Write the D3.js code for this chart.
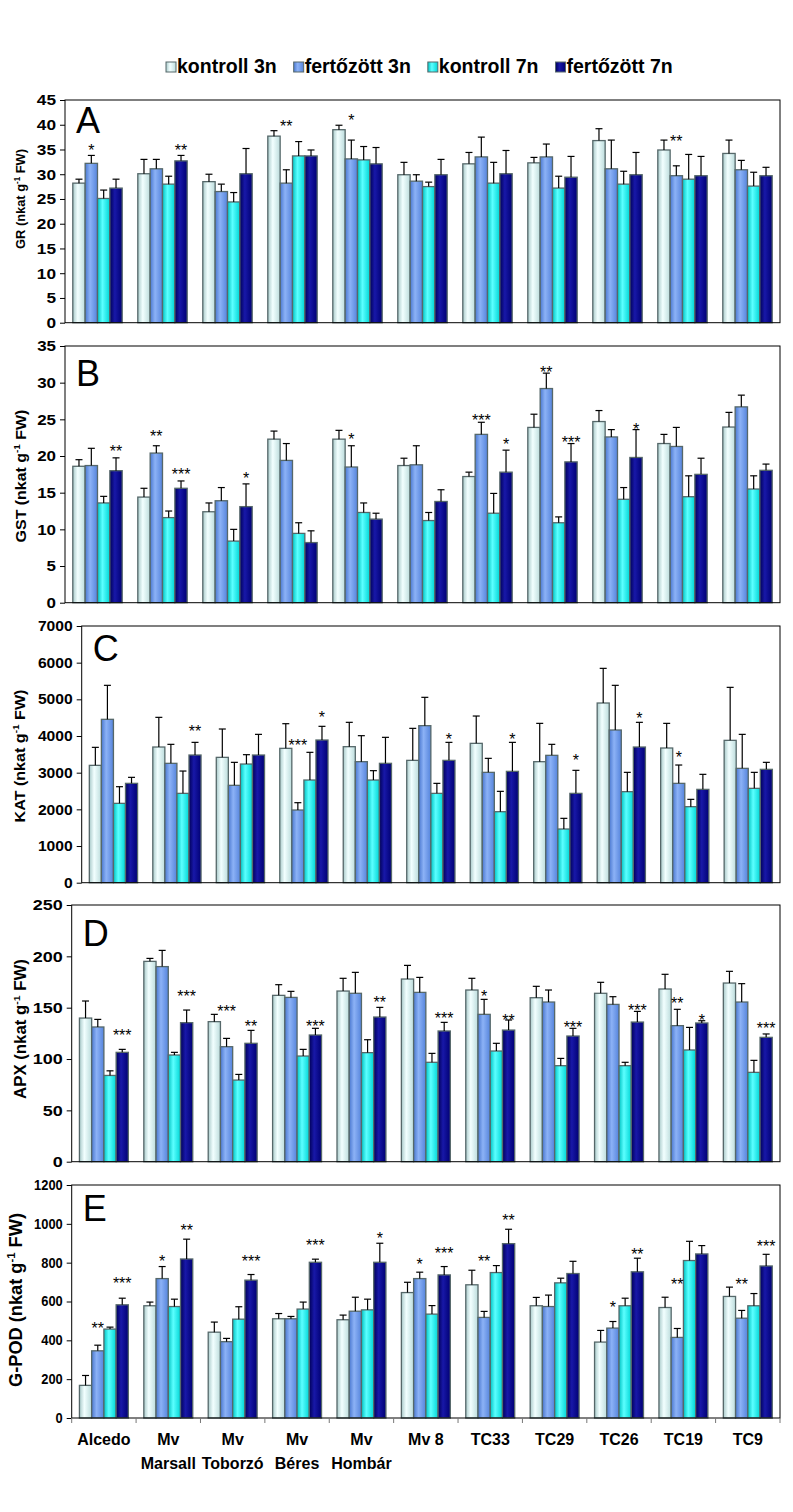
<!DOCTYPE html>
<html><head><meta charset="utf-8">
<script src="https://cdn.jsdelivr.net/npm/d3@7"></script>
<style>body{margin:0;background:#fff}svg{display:block}</style>
</head><body>
<svg id="chart" width="793" height="1512"></svg>
<script>
const categories = ["Alcedo","Mv Marsall","Mv Toborzó","Mv Béres","Mv Hombár","Mv 8","TC33","TC29","TC26","TC19","TC9"];
const series = ["kontroll 3n","fertőzött 3n","kontroll 7n","fertőzött 7n"];

// A: GR
const grMean = [[28.2,32.2,25.1,27.2],[30.1,31.1,28.0,32.7],[28.5,26.5,24.4,30.1],[37.7,28.2,33.7,33.7],[39.0,33.1,32.9,32.1],[29.9,28.6,27.5,29.9],[32.1,33.5,28.2,30.1],[32.3,33.5,27.2,29.4],[36.8,31.1,28.0,29.9],[34.9,29.7,29.0,29.7],[34.2,30.9,27.6,29.7]];
const grSd = [[0.8,1.6,1.7,1.8],[2.9,1.9,1.6,1.1],[1.5,1.5,1.9,5.1],[1.1,2.7,2.9,1.2],[0.9,3.8,2.7,3.3],[2.5,1.3,0.9,3.1],[2.3,4.0,4.2,4.7],[1.1,2.6,2.4,4.2],[2.4,5.8,2.6,4.5],[2.0,2.0,5.0,3.9],[2.7,1.9,2.8,1.7]];
const grSig = [[0,1,"*",35.6],[1,3,"**",35.6],[3,1,"**",40.3],[4,1,"*",41.6],[9,1,"**",37.3]];
const grTicks = [0,5,10,15,20,25,30,35,40,45];

// B: GST
const gstMean = [[18.6,18.7,13.6,18.0],[14.4,20.4,11.6,15.6],[12.4,13.9,8.4,13.1],[22.3,19.4,9.45,8.2],[22.3,18.5,12.3,11.4],[18.7,18.8,11.2,13.8],[17.2,22.95,12.2,17.8],[23.9,29.2,10.9,19.2],[24.7,22.6,14.1,19.8],[21.7,21.3,14.45,17.5],[23.95,26.7,15.5,18.05]];
const gstSd = [[0.9,2.35,0.9,1.75],[1.2,1.0,0.9,1.0],[1.2,1.8,1.6,3.1],[1.1,2.3,1.45,1.6],[1.2,2.9,1.3,0.8],[1.0,2.6,1.1,1.6],[0.6,1.65,2.7,3.0],[1.8,2.1,0.8,2.5],[1.5,1.0,1.6,3.8],[1.25,2.6,2.85,2.2],[2.0,1.6,1.8,0.85]];
const gstSig = [[0,3,"**",21.05],[1,1,"**",23.1],[1,3,"***",17.9],[2,3,"*",17.4],[4,1,"*",22.7],[6,1,"***",25.3],[6,3,"*",22.1],[7,1,"**",31.8],[7,3,"***",22.3],[8,3,"*",24.1]];
const gstTicks = [0,5,10,15,20,25,30,35];

// C: KAT
const katMean = [[3200,4455,2164,2709],[3700,3255,2436,3482],[3418,2655,3236,3482],[3664,1982,2800,3891],[3709,3300,2800,3255],[3336,4282,2436,3336],[3800,3009,1936,3036],[3300,3473,1464,2436],[4900,4164,2482,3700],[3673,2709,2073,2545],[3882,3118,2573,3091]];
const katSd = [[491,927,454,164],[809,518,609,345],[773,627,255,563],[672,200,755,373],[664,709,255,709],[873,773,273,491],[745,382,555,791],[1045,300,291,628],[945,1218,527,673],[672,500,200,410],[1445,927,436,191]];
const katSig = [[1,3,"**",4209],[3,1,"***",3845],[3,3,"*",4600],[5,3,"*",4000],[6,3,"*",4000],[7,3,"*",3436],[8,3,"*",4564],[9,1,"*",3509]];
const katTicks = [0,1000,2000,3000,4000,5000,6000,7000];

// D: APX
const apxMean = [[139.9,131.2,84.0,106.5],[195.1,190.0,103.9,135.4],[136.4,112.0,79.5,115.3],[162.0,160.0,102.9,123.4],[166.2,164.0,106.2,140.9],[177.9,164.9,96.8,127.3],[167.2,143.5,107.8,128.2],[159.7,155.5,93.5,122.4],[164.0,153.2,93.5,136.0],[168.2,132.5,108.8,135.1],[174.0,155.5,87.0,121.1]];
const apxSd = [[16.6,7.4,4.5,2.9],[2.9,15.8,2.6,12.3],[7.1,8.1,5.5,12.6],[10.4,5.9,6.5,6.5],[12.4,20.4,12.6,9.4],[13.3,14.6,8.7,8.4],[11.4,14.6,7.5,9.8],[11.1,11.7,7.1,7.5],[10.7,7.5,3.3,10.4],[14.3,15.9,22.0,2.2],[11.4,17.9,11.7,3.3]];
const apxSig = [[0,3,"***",126.6],[1,3,"***",164],[2,1,"***",149.4],[2,3,"**",134.7],[3,3,"***",134.7],[4,3,"**",158],[5,3,"***",142.9],[6,1,"*",164],[6,3,"**",141.2],[7,3,"***",133.8],[8,3,"***",150.3],[9,1,"**",157.5],[9,3,"*",141.2],[10,3,"***",133.1]];
const apxTicks = [0,50,100,150,200,250];

// E: G-POD
const gpodMean = [[168,346,458,583],[578,718,574,819],[442,393,509,710],[511,511,561,802],[506,550,557,802],[646,718,535,737],[686,518,749,898],[578,574,696,744],[391,463,578,753],[569,415,811,845],[626,514,578,783]];
const gpodSd = [[51,29,10,34],[19,62,38,102],[52,17,64,29],[27,12,36,16],[24,72,55,98],[53,33,44,43],[75,31,36,74],[43,59,24,63],[60,34,39,70],[53,46,99,43],[48,40,63,60]];
const gpodSig = [[0,1,"**",480],[0,3,"***",711],[1,1,"*",823],[1,3,"**",982],[2,3,"***",823],[3,3,"***",909],[4,3,"*",943],[5,1,"*",811],[5,3,"***",866],[6,1,"**",826],[6,3,"**",1034],[8,1,"*",588],[8,3,"**",862],[9,1,"**",708],[10,1,"**",708],[10,3,"***",903]];
const gpodTicks = [0,200,400,600,800,1000,1200];

const yTitles = ["GR","GST","KAT","APX","G-POD"];
const panelLetters = ["A","B","C","D","E"];

// ---------- layout / style ----------
const svg = d3.select("#chart");
const FONT = "'Liberation Sans', Arial, Helvetica, sans-serif";
svg.attr("font-family", FONT);
const RIGHT = 780;
const panels = [
  {mean:grMean, sd:grSd, sig:grSig, ticks:grTicks, top:100, bottom:322.7, left:65, tickFs:15, tickSx:1.15, titleFs:13.5, titleLen:100, titleCy:199, titleX:25, letterDy:33},
  {mean:gstMean, sd:gstSd, sig:gstSig, ticks:gstTicks, top:346, bottom:602.7, left:65, tickFs:15, tickSx:1.13, titleFs:15.5, titleLen:133, titleCy:476, titleX:26, letterDy:40},
  {mean:katMean, sd:katSd, sig:katSig, ticks:katTicks, top:626, bottom:882.7, left:81.7, tickFs:14.5, tickSx:1.08, titleFs:15.5, titleLen:133, titleCy:756, titleX:25, letterDy:35},
  {mean:apxMean, sd:apxSd, sig:apxSig, ticks:apxTicks, top:905, bottom:1161.7, left:71.7, tickFs:15, tickSx:1.2, titleFs:16, titleLen:140, titleCy:1029, titleX:26, letterDy:41},
  {mean:gpodMean, sd:gpodSd, sig:gpodSig, ticks:gpodTicks, top:1185, bottom:1418, left:71.7, tickFs:14, tickSx:0.92, titleFs:17.5, titleLen:174, titleCy:1300, titleX:22, letterDy:36}
];

const gradStops = [
  [["0%","#a9caca"],["40%","#f2ffff"],["100%","#bcdcdc"]],
  [["0%","#4a78d0"],["40%","#8cb2f6"],["100%","#5584dc"]],
  [["0%","#00c4c4"],["40%","#5cffff"],["100%","#00d6d6"]],
  [["0%","#00005a"],["40%","#1818a8"],["100%","#000074"]]
];
const defs = svg.append("defs");
gradStops.forEach((st,i)=>{
  const g = defs.append("linearGradient").attr("id","g"+i).attr("x1","0%").attr("x2","100%").attr("y1","0%").attr("y2","0%");
  st.forEach(s=>g.append("stop").attr("offset",s[0]).attr("stop-color",s[1]));
});
const STROKE = "#56686a";

// Legend
let lx = 166;
series.forEach((s,i)=>{
  svg.append("rect").attr("x",lx).attr("y",62).attr("width",10).attr("height",10)
    .attr("fill","url(#g"+i+")").attr("stroke",STROKE).attr("stroke-width",1);
  const t = svg.append("text").attr("x",lx+11).attr("y",72.5).attr("font-size",19.5).attr("font-weight","bold").text(s);
  lx = lx + 11 + t.node().getComputedTextLength() + 17;
});

panels.forEach((p,pi)=>{
  const g = svg.append("g");
  const y = d3.scaleLinear().domain([0, p.ticks[p.ticks.length-1]]).range([p.bottom, p.top]);
  const x0 = d3.scaleBand().domain(categories).range([p.left, RIGHT]);
  const bw = x0.bandwidth();
  const x1 = d3.scaleBand().domain(series).range([bw*0.12, bw*0.88]);
  const data = [];
  categories.forEach((c,ci)=>series.forEach((s,si)=>data.push({c,ci,s,si,m:p.mean[ci][si],sd:p.sd[ci][si]})));

  // bars
  g.selectAll("rect.bar").data(data).join("rect").attr("class","bar")
    .attr("x",d=>x0(d.c)+x1(d.s)).attr("width",x1.bandwidth())
    .attr("y",d=>y(d.m)).attr("height",d=>y(0)-y(d.m))
    .attr("fill",d=>"url(#g"+d.si+")").attr("stroke",STROKE).attr("stroke-width",1.3);

  // error bars
  const cx = d=>x0(d.c)+x1(d.s)+x1.bandwidth()/2;
  g.selectAll("line.err").data(data).join("line").attr("class","err")
    .attr("x1",cx).attr("x2",cx).attr("y1",d=>y(d.m)).attr("y2",d=>y(d.m+d.sd))
    .attr("stroke","#000").attr("stroke-width",1.2);
  g.selectAll("line.cap").data(data).join("line").attr("class","cap")
    .attr("x1",d=>cx(d)-3.5).attr("x2",d=>cx(d)+3.5).attr("y1",d=>y(d.m+d.sd)).attr("y2",d=>y(d.m+d.sd))
    .attr("stroke","#000").attr("stroke-width",1.2);

  // significance stars
  g.selectAll("text.sig").data(p.sig).join("text").attr("class","sig")
    .attr("x",d=>x0(categories[d[0]])+x1(series[d[1]])+x1.bandwidth()/2)
    .attr("y",d=>y(d[3])+9).attr("text-anchor","middle").attr("font-size",16).text(d=>d[2]);

  // frame
  g.append("rect").attr("x",p.left).attr("y",p.top).attr("width",RIGHT-p.left).attr("height",p.bottom-p.top)
    .attr("fill","none").attr("stroke","#000").attr("stroke-width",1);

  // y axis
  const ax = g.append("g").attr("transform",`translate(${p.left},0)`)
    .call(d3.axisLeft(y).tickValues(p.ticks).tickSize(5).tickPadding(4).tickFormat(d3.format("d")));
  ax.select(".domain").remove();
  ax.selectAll("text").attr("font-size",p.tickFs).attr("font-weight","bold").attr("font-family",FONT).attr("fill","#000")
    .attr("x",-9/p.tickSx).attr("transform",`scale(${p.tickSx},1)`);
  ax.selectAll("line").attr("stroke","#000");

  // panel letter
  g.append("text").attr("x",p.left+11).attr("y",p.top+p.letterDy).attr("font-size",36).text(panelLetters[pi]);

  // y title
  const tt = g.append("text").attr("text-anchor","middle").attr("font-size",p.titleFs).attr("font-weight","bold");
  tt.append("tspan").text(yTitles[pi]+" (nkat g");
  tt.append("tspan").attr("font-size",p.titleFs*0.62).attr("dy",-p.titleFs*0.4).text("-1");
  tt.append("tspan").attr("dy",p.titleFs*0.4).text(" FW)");
  const natural = tt.node().getBBox().width;
  tt.attr("transform",`translate(${p.titleX},${p.titleCy}) rotate(-90) scale(${p.titleLen/natural},1)`);

  // x axis ticks + labels on last panel
  if (pi === panels.length-1) {
    const bounds = categories.map(c=>x0(c)).concat([RIGHT]);
    g.selectAll("line.xt").data(bounds).join("line").attr("class","xt")
      .attr("x1",d=>d).attr("x2",d=>d).attr("y1",p.bottom).attr("y2",p.bottom+5)
      .attr("stroke","#777").attr("stroke-width",1);
    categories.forEach(c=>{
      const parts = (c.startsWith("Mv ") && c.length>4) ? ["Mv", c.slice(3)] : [c];
      const cxx = x0(c)+bw/2;
      parts.forEach((t,k)=>{
        g.append("text").attr("x",cxx).attr("y",1445+k*24).attr("text-anchor","middle")
          .attr("font-size",16).attr("font-weight","bold").text(t);
      });
    });
  }
});
</script>
</body></html>
